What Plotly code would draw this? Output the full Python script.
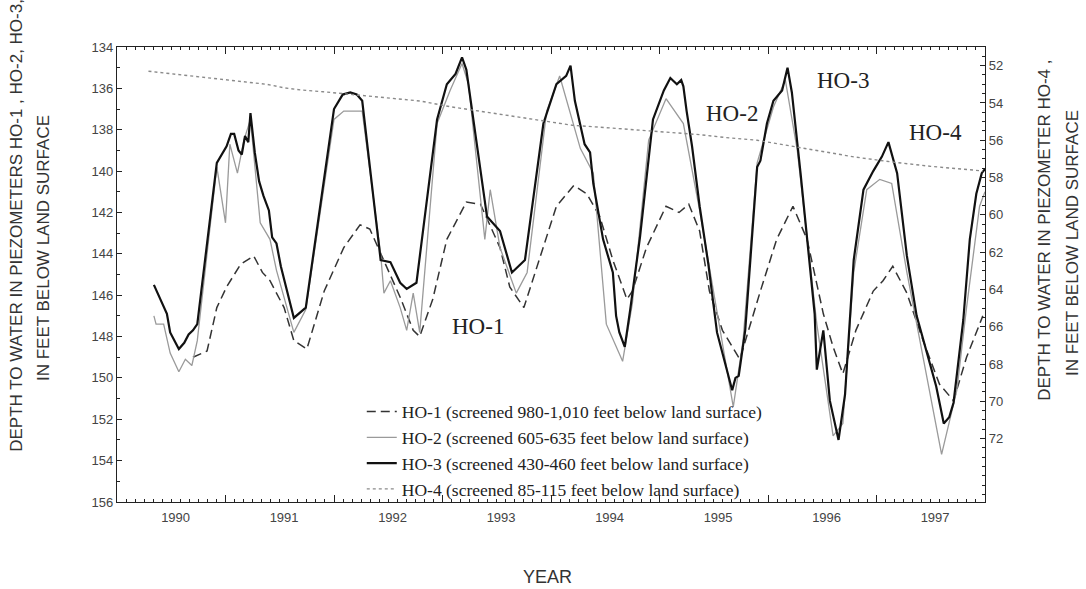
import plotly.graph_objects as go

# ---------------- data (decimal year, depth in feet) ----------------
ho1_year = [1990.70, 1990.83, 1990.92, 1991.01, 1991.14, 1991.26, 1991.34, 1991.41, 1991.54, 1991.63,
            1991.75, 1991.91, 1992.09, 1992.24, 1992.33, 1992.46, 1992.61, 1992.73, 1992.79, 1992.91,
            1993.04, 1993.22, 1993.35, 1993.53, 1993.62, 1993.75, 1993.90, 1994.05, 1994.21, 1994.33,
            1994.45, 1994.57, 1994.70, 1994.75, 1994.88, 1995.06, 1995.18, 1995.27, 1995.37, 1995.46,
            1995.58, 1995.74, 1995.93, 1996.08, 1996.23, 1996.36, 1996.51, 1996.60, 1996.69, 1996.81,
            1996.97, 1997.06, 1997.15, 1997.28, 1997.43, 1997.58, 1997.71, 1997.83, 1997.98]
ho1_depth = [149.0, 148.7, 146.6, 145.6, 144.5, 144.1, 144.9, 145.3, 146.6, 148.2,
             148.6, 145.8, 143.7, 142.6, 142.8, 144.3, 146.1, 147.7, 148.0, 146.2,
             143.3, 141.5, 141.6, 143.7, 145.6, 146.6, 144.1, 141.7, 140.7, 141.1,
             142.2, 144.3, 146.2, 145.8, 143.7, 141.7, 142.0, 141.6, 142.9, 145.8,
             147.7, 149.1, 145.8, 143.3, 141.7, 143.3, 146.9, 148.5, 149.8, 147.7,
             145.8, 145.3, 144.6, 145.9, 148.2, 150.3, 151.1, 149.0, 147.0]

ho2_year = [1990.34, 1990.36, 1990.43, 1990.49, 1990.57, 1990.63, 1990.69, 1990.74, 1990.92, 1991.00,
            1991.04, 1991.11, 1991.17, 1991.23, 1991.32, 1991.41, 1991.47, 1991.63, 1991.74, 1992.00,
            1992.09, 1992.26, 1992.43, 1992.46, 1992.52, 1992.61, 1992.67, 1992.73, 1992.79, 1992.95,
            1993.07, 1993.18, 1993.24, 1993.39, 1993.44, 1993.53, 1993.68, 1993.78, 1993.96, 1994.08,
            1994.27, 1994.39, 1994.51, 1994.66, 1994.75, 1994.90, 1995.06, 1995.22, 1995.37, 1995.68,
            1995.77, 1995.90, 1996.05, 1996.16, 1996.27, 1996.45, 1996.60, 1996.69, 1996.79, 1996.91,
            1997.03, 1997.14, 1997.28, 1997.43, 1997.60, 1997.74, 1997.83, 1997.95, 1998.00]
ho2_depth = [147.0, 147.4, 147.4, 148.8, 149.7, 149.1, 149.4, 148.2, 139.8, 142.5,
             138.7, 140.1, 138.5, 137.5, 142.5, 143.3, 144.8, 147.8, 146.7, 137.5,
             137.1, 137.1, 144.0, 145.9, 145.3, 146.6, 147.7, 145.9, 147.8, 137.7,
             136.1, 134.8, 135.8, 143.3, 140.9, 143.7, 145.9, 144.9, 137.1, 135.4,
             138.9, 140.1, 147.4, 149.2, 146.4, 138.5, 136.5, 137.7, 141.9, 151.4,
             148.2, 139.6, 136.9, 135.6, 139.0, 147.4, 152.8, 152.2, 144.9, 140.9,
             140.4, 140.6, 144.9, 149.0, 153.7, 150.6, 146.6, 141.7, 141.0]

ho3_year = [1990.34, 1990.43, 1990.46, 1990.49, 1990.57, 1990.62, 1990.66, 1990.70, 1990.74, 1990.92,
            1991.01, 1991.05, 1991.08, 1991.12, 1991.15, 1991.18, 1991.21, 1991.23, 1991.27, 1991.31,
            1991.35, 1991.40, 1991.43, 1991.47, 1991.51, 1991.63, 1991.74, 1992.00, 1992.08, 1992.15,
            1992.21, 1992.26, 1992.43, 1992.52, 1992.61, 1992.67, 1992.76, 1992.95, 1993.04, 1993.12,
            1993.18, 1993.22, 1993.41, 1993.53, 1993.64, 1993.76, 1993.93, 1994.05, 1994.14, 1994.18,
            1994.22, 1994.31, 1994.36, 1994.39, 1994.48, 1994.57, 1994.60, 1994.63, 1994.68, 1994.73,
            1994.82, 1994.94, 1995.04, 1995.10, 1995.16, 1995.20, 1995.22, 1995.25, 1995.30, 1995.37,
            1995.45, 1995.53, 1995.62, 1995.67, 1995.70, 1995.73, 1995.79, 1995.90, 1995.93, 1995.99,
            1996.05, 1996.13, 1996.18, 1996.22, 1996.30, 1996.36, 1996.43, 1996.45, 1996.51, 1996.57,
            1996.65, 1996.71, 1996.79, 1996.88, 1996.97, 1997.05, 1997.11, 1997.19, 1997.28, 1997.37,
            1997.46, 1997.55, 1997.62, 1997.67, 1997.71, 1997.80, 1997.86, 1997.92, 1997.97, 1998.00]
ho3_depth = [145.5, 146.5, 146.9, 147.8, 148.6, 148.3, 147.9, 147.7, 147.4, 139.6,
             138.8, 138.2, 138.2, 139.0, 139.2, 138.3, 138.6, 137.2, 139.1, 140.5,
             141.2, 141.9, 143.2, 143.5, 144.6, 147.1, 146.6, 137.0, 136.3, 136.2,
             136.3, 136.6, 144.3, 144.4, 145.4, 145.7, 145.4, 137.5, 135.8, 135.3,
             134.5, 135.1, 142.2, 142.9, 144.9, 144.3, 137.7, 135.8, 135.4, 134.9,
             136.6, 138.7, 139.1, 140.6, 143.3, 144.9, 147.0, 147.8, 148.5, 146.7,
             143.2, 137.5, 136.1, 135.5, 135.8, 135.6, 135.9, 137.1, 138.8, 141.7,
             144.5, 147.8, 149.6, 150.6, 150.0, 149.9, 147.7, 139.8, 139.5, 137.7,
             136.6, 136.1, 135.0, 136.2, 140.1, 143.3, 146.9, 149.6, 147.7, 151.1,
             153.0, 150.8, 144.3, 140.9, 140.0, 139.3, 138.6, 140.1, 144.1, 147.0,
             148.7, 150.4, 152.2, 151.9, 151.2, 147.2, 143.3, 141.1, 140.1, 139.9]

ho4_year = [1990.29, 1990.45, 1990.61, 1990.78, 1990.92, 1991.11, 1991.25, 1991.38, 1991.55, 1991.69,
            1991.90, 1992.09, 1992.25, 1992.40, 1992.60, 1992.80, 1993.07, 1993.30, 1993.53, 1993.75,
            1993.99, 1994.20, 1994.45, 1994.70, 1994.91, 1995.15, 1995.37, 1995.60, 1995.90, 1996.20,
            1996.51, 1996.80, 1997.12, 1997.50, 1997.89, 1997.98]
ho4_depth = [52.3, 52.4, 52.5, 52.6, 52.7, 52.8, 52.9, 53.0, 53.2, 53.3,
             53.4, 53.5, 53.6, 53.7, 53.8, 53.9, 54.2, 54.4, 54.6, 54.8,
             55.0, 55.2, 55.3, 55.4, 55.5, 55.6, 55.7, 55.85, 56.0, 56.3,
             56.6, 56.9, 57.15, 57.4, 57.6, 57.65]

years = [1990, 1991, 1992, 1993, 1994, 1995, 1996, 1997]
left_ticks = [134, 136, 138, 140, 142, 144, 146, 148, 150, 152, 154, 156]
right_ticks = [52, 54, 56, 58, 60, 62, 64, 66, 68, 70, 72]

names = ["HO-1 (screened 980-1,010 feet below land surface)",
         "HO-2 (screened 605-635 feet below land surface)",
         "HO-3 (screened 430-460 feet below land surface)",
         "HO-4 (screened 85-115 feet below land surface)"]

# ---------------- figure ----------------
fig = go.Figure()
fig.add_trace(go.Scatter(x=ho1_year, y=ho1_depth, mode="lines", name=names[0], legendrank=1,
                         line=dict(color="#333333", width=1.5, dash="9px,5px")))
fig.add_trace(go.Scatter(x=ho2_year, y=ho2_depth, mode="lines", name=names[1], legendrank=2,
                         line=dict(color="#9a9a9a", width=1.3)))
fig.add_trace(go.Scatter(x=ho3_year, y=ho3_depth, mode="lines", name=names[2], legendrank=3,
                         line=dict(color="#111111", width=2.2)))
fig.add_trace(go.Scatter(x=ho4_year, y=ho4_depth, mode="lines", name=names[3], legendrank=4,
                         xaxis="x2", yaxis="y2",
                         line=dict(color="#8a8a8a", width=1.4, dash="dot")))

tick_font = dict(family="Liberation Sans, Arial", size=13, color="#444444")

fig.update_layout(
    width=1086, height=589,
    margin=dict(l=117, r=101, t=47, b=87),
    paper_bgcolor="white", plot_bgcolor="white",
    showlegend=True,
    legend=dict(x=0.282, y=0.238, xanchor="left", yanchor="top",
                bgcolor="rgba(0,0,0,0)",
                font=dict(family="Liberation Serif, Times New Roman", size=17.5, color="#222222")),
    xaxis=dict(range=[1990, 1998], showgrid=False, zeroline=False,
               showline=True, linecolor="#222222", linewidth=1.3, mirror="ticks",
               ticks="inside", tickvals=years[1:], ticklen=7, tickcolor="#222222",
               showticklabels=False,
               minor=dict(dtick=1 / 12, tick0=1990, ticks="inside", ticklen=3, tickcolor="#222222")),
    xaxis2=dict(range=[1990, 1998], overlaying="x", anchor="y", side="bottom",
                showgrid=False, zeroline=False, showline=False, ticks="",
                ticklabelstandoff=6,
                tickvals=[y + 0.54 for y in years], ticktext=[str(y) for y in years],
                tickfont=tick_font),
    yaxis=dict(range=[156, 134], showgrid=False, zeroline=False,
               showline=True, linecolor="#222222", linewidth=1.3,
               ticks="inside", tickvals=left_ticks, ticklen=5, tickcolor="#222222",
               tickfont=tick_font,
               minor=dict(dtick=1, tick0=134, ticks="inside", ticklen=3, tickcolor="#222222")),
    yaxis2=dict(range=[75.4, 51.0], overlaying="y", side="right", anchor="x2",
                showgrid=False, zeroline=False,
                showline=True, linecolor="#222222", linewidth=1.3,
                ticks="inside", tickvals=right_ticks, ticklen=5, tickcolor="#222222",
                tickfont=tick_font,
                minor=dict(dtick=0.5, tick0=51, ticks="inside", ticklen=3, tickcolor="#222222")),
)

title_font = dict(family="Liberation Sans, Arial", size=17, color="#333333")
label_font = dict(family="Liberation Serif, Times New Roman", size=23, color="#222222")

annotations = [
    dict(text="DEPTH TO WATER IN PIEZOMETERS HO-1 , HO-2, HO-3,", x=-0.1152, y=0.607,
         xref="paper", yref="paper", textangle=-90, showarrow=False, font=title_font,
         xanchor="center", yanchor="middle"),
    dict(text="IN FEET BELOW LAND SURFACE", x=-0.0853, y=0.558,
         xref="paper", yref="paper", textangle=-90, showarrow=False, font=title_font,
         xanchor="center", yanchor="middle"),
    dict(text="DEPTH TO WATER IN PIEZOMETER HO-4 ,", x=1.069, y=0.598,
         xref="paper", yref="paper", textangle=-90, showarrow=False, font=title_font,
         xanchor="center", yanchor="middle"),
    dict(text="IN FEET BELOW LAND SURFACE", x=1.1002, y=0.569,
         xref="paper", yref="paper", textangle=-90, showarrow=False, font=title_font,
         xanchor="center", yanchor="middle"),
    dict(text="YEAR", x=0.4954, y=-0.165, xref="paper", yref="paper", showarrow=False,
         font=dict(family="Liberation Sans, Arial", size=18, color="#333333"),
         xanchor="center", yanchor="middle"),
    dict(text="HO-1", x=1993.33, y=147.5, xref="x", yref="y", showarrow=False, font=label_font),
    dict(text="HO-2", x=1995.67, y=137.2, xref="x", yref="y", showarrow=False, font=label_font),
    dict(text="HO-3", x=1996.69, y=135.6, xref="x", yref="y", showarrow=False, font=label_font),
    dict(text="HO-4", x=1997.54, y=138.15, xref="x", yref="y", showarrow=False, font=label_font),
]
fig.update_layout(annotations=annotations)

fig.write_html("out.html")
